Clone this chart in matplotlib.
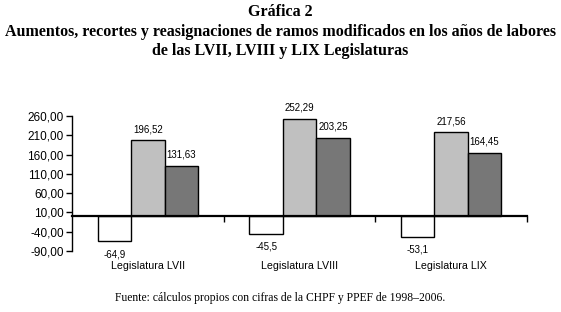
import numpy as np
import matplotlib
matplotlib.use('Agg')
import matplotlib.pyplot as plt

categories = ['Legislatura LVII', 'Legislatura LVIII', 'Legislatura LIX']
recortes = [-64.9, -45.5, -53.1]
aumentos = [196.52, 252.29, 217.56]
reasignaciones = [131.63, 203.25, 164.45]
labels_recortes = ['-64,9', '-45,5', '-53,1']
labels_aumentos = ['196,52', '252,29', '217,56']
labels_reasig = ['131,63', '203,25', '164,45']
yticks = [-90, -40, 10, 60, 110, 160, 210, 260]

plt.rcParams['font.family'] = ['Liberation Sans', 'DejaVu Sans']

fig = plt.figure(figsize=(5.61, 3.12), dpi=100)
ax = fig.add_axes([72 / 561, 1 - 251 / 312, 455 / 561, 135 / 312])

x = np.arange(len(categories))
w = 0.22
series = [(recortes, 'white', labels_recortes, -w),
          (aumentos, '#c0c0c0', labels_aumentos, 0),
          (reasignaciones, '#777777', labels_reasig, w)]
for vals, col, labs, off in series:
    ax.bar(x + off, vals, w, color=col, edgecolor='black', linewidth=1.0, zorder=2)
    for xi, v, lab in zip(x, vals, labs):
        if v < 0:
            ax.text(xi + off, v - 13 / 0.386, lab, ha='center', va='center', fontsize=7)
        else:
            ax.text(xi + off, v + 11 / 0.386, lab, ha='center', va='center', fontsize=7)

ax.set_xlim(-0.5, 2.5)
ax.set_ylim(-90, 260)
ax.set_yticks(yticks)
ax.set_yticklabels([('%.2f' % t).replace('.', ',') for t in yticks], fontsize=8.5)
ax.set_xticks([0.5, 1.5, 2.5])
ax.set_xticklabels([])
ax.tick_params(axis='x', direction='out', length=4, width=1)
ax.tick_params(axis='y', direction='out', length=4, width=1, pad=2)
ax.spines['top'].set_visible(False)
ax.spines['right'].set_visible(False)
ax.spines['bottom'].set_position(('data', 0))
ax.spines['bottom'].set_linewidth(1.6)
ax.spines['bottom'].set_zorder(3)
ax.spines['left'].set_linewidth(1)

for xi, c in zip(x, categories):
    ax.text(xi, -0.11, c, transform=ax.get_xaxis_transform(), ha='center', va='center', fontsize=7.7)

fig.text(0.5, 1 - 12 / 312, 'Gráfica 2', ha='center', va='center',
         fontsize=11.5, fontweight='bold', family='Liberation Serif')
fig.text(0.5, 1 - 32 / 312, 'Aumentos, recortes y reasignaciones de ramos modificados en los años de labores',
         ha='center', va='center', fontsize=11.5, fontweight='bold', family='Liberation Serif')
fig.text(0.5, 1 - 51 / 312, 'de las LVII, LVIII y LIX Legislaturas', ha='center', va='center',
         fontsize=11.5, fontweight='bold', family='Liberation Serif')
fig.text(0.5, 1 - 298 / 312, 'Fuente: cálculos propios con cifras de la CHPF y PPEF de 1998–2006.',
         ha='center', va='center', fontsize=8.4, family='Liberation Serif')

fig.savefig('out.png', dpi=100)
